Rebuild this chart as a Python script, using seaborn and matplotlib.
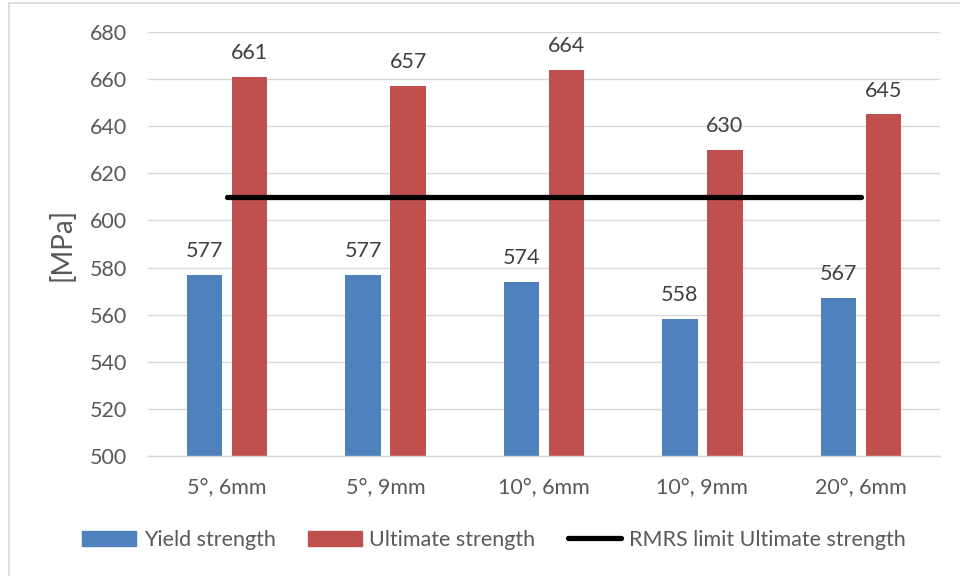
import matplotlib
matplotlib.use("Agg")
import matplotlib.pyplot as plt
from matplotlib.lines import Line2D
import seaborn as sns
import pandas as pd

# Tensile test results per bevel angle / plate thickness
categories = ["5°, 6mm", "5°, 9mm", "10°, 6mm", "10°, 9mm", "20°, 6mm"]
yield_strength = [577, 577, 574, 558, 567]
ultimate_strength = [661, 657, 664, 630, 645]
rmrs_limit = 610
series_names = ["Yield strength", "Ultimate strength"]
limit_name = "RMRS limit Ultimate strength"
y_ticks = [500, 520, 540, 560, 580, 600, 620, 640, 660, 680]

colors = {"Yield strength": "#4F81BD", "Ultimate strength": "#C0504D"}

df = pd.DataFrame({
    "case": categories * 2,
    "value": yield_strength + ultimate_strength,
    "series": [series_names[0]] * len(categories) + [series_names[1]] * len(categories),
})

sns.set_theme(style="white")
plt.rcParams["font.family"] = ["Lato", "DejaVu Sans"]

fig = plt.figure(figsize=(9.6, 5.76), dpi=100)
ax = fig.add_axes([148 / 960, 1 - 456 / 576, 792 / 960, 424 / 576])

sns.barplot(data=df, x="case", y="value", hue="series", palette=colors,
            width=0.568, gap=0.21, linewidth=0, saturation=1, ax=ax,
            order=categories, hue_order=series_names, legend=False)

for cont in ax.containers:
    ax.bar_label(cont, fmt="%d", padding=10, fontsize=15.5, color="#404040")

# Classification society minimum for ultimate strength
ax.plot(range(len(categories)), [rmrs_limit] * len(categories), color="black",
        lw=3.8, solid_capstyle="round", zorder=4)

ax.set_ylim(500, 680)
ax.set_xlim(-0.5, len(categories) - 0.5)
ax.set_yticks(y_ticks)
ax.yaxis.grid(True, color="#d9d9d9", lw=1.0)
ax.set_axisbelow(True)
for side in ["left", "right", "top"]:
    ax.spines[side].set_visible(False)
ax.spines["bottom"].set_color("#d9d9d9")
ax.spines["bottom"].set_linewidth(1.0)
ax.tick_params(axis="y", length=0, pad=15, labelsize=15.5, labelcolor="#595959")
ax.tick_params(axis="x", length=0, pad=16, labelsize=15.5, labelcolor="#595959")
ax.set_xlabel("")
ax.set_ylabel("[MPa]", fontsize=20, color="#595959", labelpad=10)

handles = [
    plt.Rectangle((0, 0), 1, 1, color=colors[series_names[0]]),
    plt.Rectangle((0, 0), 1, 1, color=colors[series_names[1]]),
    Line2D([0], [0], color="black", lw=3.8, solid_capstyle="round"),
]
fig.legend(handles, series_names + [limit_name], loc="center",
           bbox_to_anchor=(494 / 960, 1 - 540 / 576), ncol=3, frameon=False,
           fontsize=15.5, labelcolor="#595959", handlelength=2.5,
           handleheight=0.7, handletextpad=0.35, columnspacing=1.5)

# Chart frame
fig.add_artist(Line2D([9 / 960, 9 / 960], [0, 1 - 3 / 576], color="#d9d9d9", lw=1.2))
fig.add_artist(Line2D([9 / 960, 1], [1 - 3 / 576, 1 - 3 / 576], color="#d9d9d9", lw=1.2))

fig.savefig("out.png", dpi=100)
